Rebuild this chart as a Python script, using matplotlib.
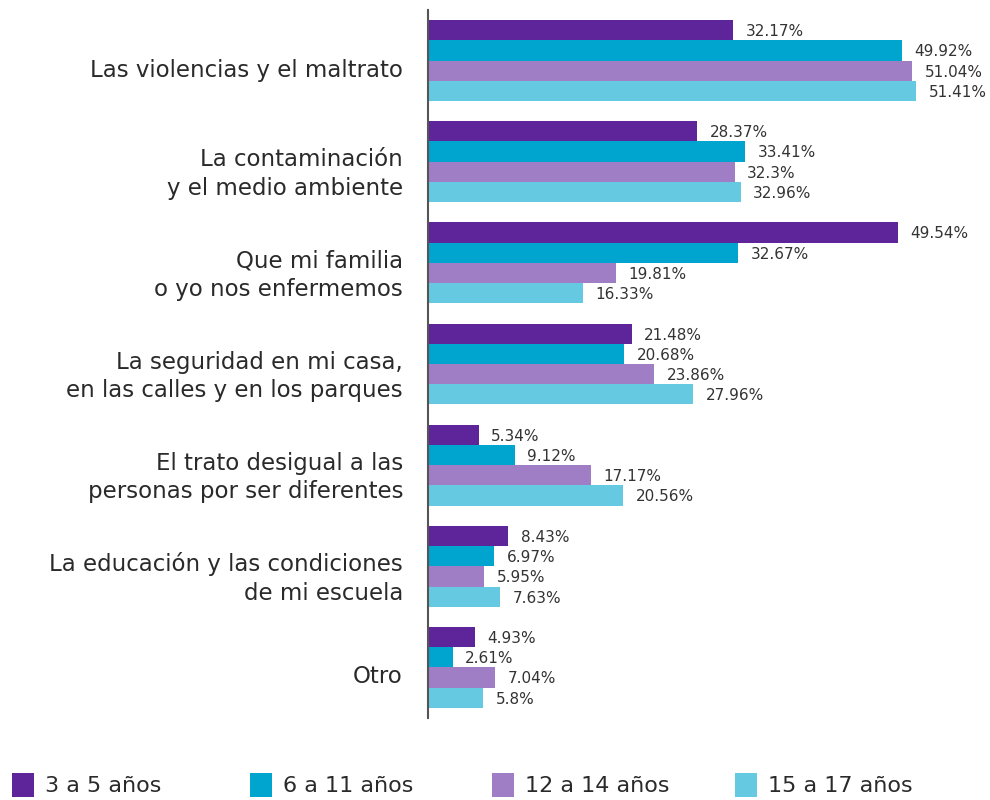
import matplotlib.pyplot as plt
import numpy as np
from matplotlib.patches import Patch
from matplotlib.transforms import ScaledTranslation

# Categories and values (percent)
categories = [
    'Las violencias y el maltrato',
    'La contaminación\ny el medio ambiente',
    'Que mi familia\no yo nos enfermemos',
    'La seguridad en mi casa,\nen las calles y en los parques',
    'El trato desigual a las\npersonas por ser diferentes',
    'La educación y las condiciones\nde mi escuela',
    'Otro',
]
age_groups = ['3 a 5 años', '6 a 11 años', '12 a 14 años', '15 a 17 años']
vals_3_5 = [32.17, 28.37, 49.54, 21.48, 5.34, 8.43, 4.93]
vals_6_11 = [49.92, 33.41, 32.67, 20.68, 9.12, 6.97, 2.61]
vals_12_14 = [51.04, 32.3, 19.81, 23.86, 17.17, 5.95, 7.04]
vals_15_17 = [51.41, 32.96, 16.33, 27.96, 20.56, 7.63, 5.8]
labels_3_5 = ['32.17%', '28.37%', '49.54%', '21.48%', '5.34%', '8.43%', '4.93%']
labels_6_11 = ['49.92%', '33.41%', '32.67%', '20.68%', '9.12%', '6.97%', '2.61%']
labels_12_14 = ['51.04%', '32.3%', '19.81%', '23.86%', '17.17%', '5.95%', '7.04%']
labels_15_17 = ['51.41%', '32.96%', '16.33%', '27.96%', '20.56%', '7.63%', '5.8%']

colors = ['#5E259B', '#00A5CF', '#A07EC5', '#65CAE1']
series = [vals_3_5, vals_6_11, vals_12_14, vals_15_17]
series_labels = [labels_3_5, labels_6_11, labels_12_14, labels_15_17]

plt.rcParams['font.family'] = ['DejaVu Sans']

fig = plt.figure(figsize=(9.9, 8), dpi=100)
ax = fig.add_axes([428 / 990, 82 / 800, 1 - 428 / 990, 708 / 800])

y = np.arange(len(categories))
h = 0.2
offsets = [-0.3, -0.1, 0.1, 0.3]
for vals, labs, col, off in zip(series, series_labels, colors, offsets):
    ax.barh(y + off, vals, height=h, color=col)
    for yi, v, lab in zip(y, vals, labs):
        ax.annotate(lab, (v, yi + off), xytext=(9, -1), textcoords='offset points',
                    va='center', ha='left', fontsize=11, color='#333333')

ax.set_xlim(0, (990 - 428) / 9.49)
ax.set_ylim(6.5, -0.5)
ax.set_yticks(y)
ax.set_yticklabels(categories, fontsize=16.5, color='#2a2a2a', linespacing=1.3)
ax.tick_params(axis='y', length=0, pad=18)
# labels sit a little below the group centre in the original
shift = ScaledTranslation(0, -0.07, fig.dpi_scale_trans)
for lbl in ax.get_yticklabels():
    lbl.set_transform(lbl.get_transform() + shift)
ax.set_xticks([])
for s in ['top', 'right', 'bottom']:
    ax.spines[s].set_visible(False)
ax.spines['left'].set_color('#555555')
ax.spines['left'].set_linewidth(1.5)

# Legend, one entry per position
legend_x = [8, 246, 488, 731]
for lab, col, lx in zip(age_groups, colors, legend_x):
    leg = fig.legend([Patch(facecolor=col)], [lab], loc='center left',
                     bbox_to_anchor=(lx / 990, 1 - 785 / 800), frameon=False,
                     fontsize=16, handlelength=0.95, handleheight=1.3,
                     handletextpad=0.5, borderaxespad=0, borderpad=0.2)
    for t in leg.get_texts():
        t.set_color('#2a2a2a')

plt.savefig('out.png', dpi=100)
